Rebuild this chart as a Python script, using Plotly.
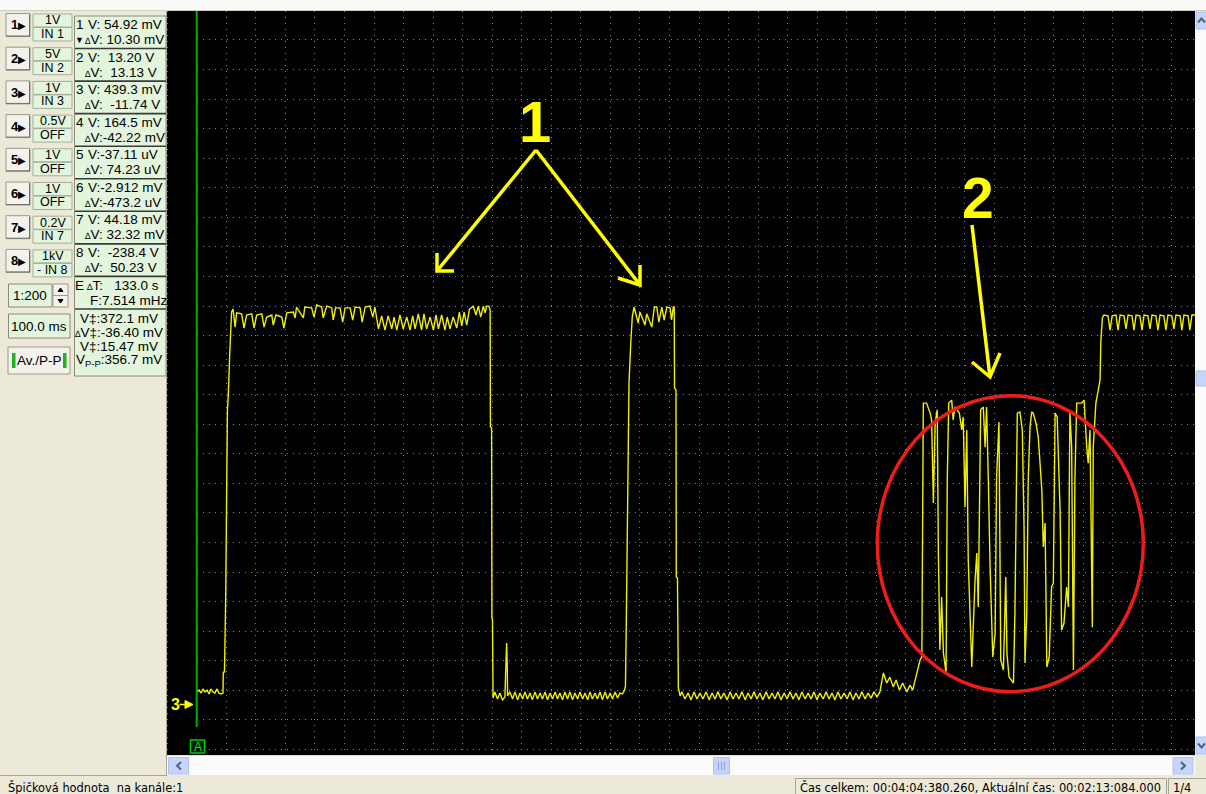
import plotly.graph_objects as go

# ---------------- channel 3 trace (time in ms, 100 ms/div ; volts, 1 V/div) ----------------
t_lead = [1, 8, 15, 21, 28, 35, 42, 48, 55, 62, 69, 75, 82, 89, 90, 94, 98, 104, 107, 110, 112, 118]
v_lead = [0.41, 0.47, 0.37, 0.51, 0.41, 0.47, 0.34, 0.51, 0.41, 0.37, 0.51, 0.37, 0.34, 0.37,
          1.08, 1.08, 3.52, 9.95, 10.45, 11.81, 11.91, 13.26]

t_high1 = [123, 130, 135, 152, 160, 169, 186, 194, 203, 220, 228, 237, 254, 259, 268, 288, 295, 305,
           327, 333, 338, 361, 366, 389, 397, 406, 423, 428, 440, 457, 462, 470, 485, 494, 502, 519,
           528, 536, 553, 560, 570, 586, 596, 603,
           615, 626, 637, 648, 660, 668, 677, 688, 699, 711, 722, 731, 739, 750, 761, 769, 778, 790,
           801, 810, 818, 829, 840, 848, 857, 868, 880, 889, 897, 905, 914, 923,
           936, 945, 953, 961, 970, 976, 981, 989]
v_high1 = [13.36, 12.75, 13.23, 13.20, 12.72, 13.16, 13.20, 12.72, 13.16, 13.20, 12.75, 13.09, 13.16,
           12.82, 13.16, 13.09, 12.72, 13.23, 13.26, 13.06, 13.43, 13.06, 13.43, 13.40, 13.09, 13.50,
           13.43, 13.06, 13.46, 13.40, 12.99, 13.40, 13.40, 12.92, 13.40, 13.40, 12.99, 13.43, 13.40,
           12.92, 13.43, 13.46, 13.09, 13.43,
           12.69, 13.13, 12.65, 13.13, 12.69, 13.09, 12.65, 13.16, 12.69, 13.09, 12.65, 13.13, 12.69,
           13.20, 12.65, 13.20, 12.69, 13.09, 12.65, 13.16, 12.69, 13.16, 12.65, 13.09, 12.69, 13.09,
           12.72, 13.26, 12.79, 13.26, 12.82, 13.36,
           13.46, 13.16, 13.46, 13.09, 13.46, 13.23, 13.46, 13.46]

t_fall1 = [993, 994, 998, 999, 1001, 1003]
v_fall1 = [13.33, 9.37, 9.34, 2.91, 2.84, 0.20]

t_low1 = [1009, 1018, 1026, 1035, 1043, 1046, 1047, 1049, 1051, 1052, 1060,
          1069, 1077, 1086, 1094, 1103, 1111, 1119, 1128, 1136, 1145, 1153, 1162, 1170, 1179, 1187,
          1196, 1204, 1213, 1221, 1229, 1238, 1246, 1255, 1263, 1272, 1280, 1289, 1297, 1306, 1314,
          1323, 1331, 1339, 1348, 1356, 1365, 1373, 1382, 1390, 1399, 1407, 1416, 1424, 1432, 1441,
          1448, 1451]
v_low1 = [0.41, 0.17, 0.37, 0.14, 0.24, 1.22, 2.06, 2.06, 1.22, 0.27,
          0.41, 0.17, 0.41, 0.14, 0.37, 0.17, 0.41, 0.17, 0.37, 0.14,
          0.41, 0.17, 0.37, 0.17, 0.41, 0.14, 0.37, 0.17, 0.41, 0.17,
          0.37, 0.14, 0.41, 0.17, 0.41, 0.14, 0.37, 0.17, 0.41, 0.17,
          0.37, 0.14, 0.41, 0.17, 0.37, 0.17, 0.41, 0.14, 0.41, 0.17,
          0.37, 0.17, 0.41, 0.20, 0.37, 0.34,
          0.47, 0.61]

t_rise2 = [1454, 1459, 1463, 1469, 1474, 1480]
v_rise2 = [2.91, 7.75, 10.86, 12.21, 13.09, 13.43]

t_high2 = [1494, 1500, 1517, 1523, 1540, 1549, 1557, 1564, 1574, 1582, 1591, 1602, 1607, 1613, 1616]
v_high2 = [12.89, 13.26, 12.82, 13.20, 12.75, 13.43, 13.43, 12.92, 13.43, 12.99, 13.43, 13.40,
           12.99, 13.43, 13.43]

t_fall2 = [1617, 1622, 1623, 1627, 1630, 1636]
v_fall2 = [10.69, 10.62, 4.30, 4.26, 0.54, 0.27]

t_low2 = [1642, 1652, 1663, 1673, 1683, 1693, 1703, 1713, 1724, 1734, 1744, 1754, 1764, 1774, 1784,
          1795, 1805, 1815, 1825, 1835, 1845, 1856, 1866, 1876, 1886, 1896, 1906, 1916, 1927, 1937,
          1947, 1957, 1967, 1977, 1988, 1998, 2008, 2018, 2028, 2038, 2048, 2059, 2069, 2079, 2089,
          2099, 2109, 2120, 2130, 2140, 2150, 2160, 2170, 2180, 2191, 2201, 2211, 2221, 2231, 2241,
          2251, 2262, 2272, 2282, 2292, 2302, 2312]
v_low2 = [0.41, 0.17, 0.37, 0.14, 0.41, 0.17, 0.37, 0.17, 0.41, 0.14,
          0.37, 0.17, 0.41, 0.17, 0.37, 0.14, 0.41, 0.17, 0.37, 0.17,
          0.41, 0.14, 0.37, 0.17, 0.41, 0.17, 0.37, 0.14, 0.41, 0.17,
          0.37, 0.17, 0.41, 0.14, 0.37, 0.17, 0.41, 0.17, 0.37, 0.14,
          0.41, 0.17, 0.37, 0.17, 0.41, 0.14, 0.37, 0.17, 0.41, 0.17,
          0.37, 0.14, 0.41, 0.17, 0.37, 0.17, 0.41, 0.14, 0.37, 0.17,
          0.41, 0.17, 0.37, 0.20, 0.41, 0.24, 0.41]

t_bump = [2324, 2335, 2346, 2357, 2367, 2378, 2389, 2403, 2414, 2423, 2431, 2442, 2448, 2454]
v_bump = [1.05, 0.71, 0.91, 0.58, 0.81, 0.47, 0.71, 0.41, 0.64, 0.47, 0.81, 1.25, 1.49, 1.59]

t_noise = [2459, 2470, 2482, 2487, 2493, 2499, 2506, 2510, 2515, 2521, 2527, 2536, 2540, 2545, 2555,
           2560, 2566, 2581, 2589, 2594, 2600, 2606, 2611, 2623, 2634, 2640, 2645, 2653, 2662, 2668,
           2673, 2679, 2685, 2694, 2702, 2707, 2715, 2721, 2730, 2738, 2742, 2749, 2758, 2764, 2769,
           2777, 2786, 2794, 2800, 2803, 2809, 2814, 2820, 2826, 2831, 2840, 2848, 2854, 2860, 2865,
           2871, 2877, 2885, 2893, 2899, 2905, 2912, 2922, 2927, 2935, 2944, 2950, 2955, 2961, 2967,
           2972, 2978, 2995, 3003, 3012, 3017, 3023, 3031, 3034, 3043, 3051, 3057]
v_noise = [10.18, 10.18, 9.84, 9.61, 6.80, 9.51, 9.95, 5.11, 1.83, 3.62, 1.73, 1.05, 7.58, 10.18,
           10.28, 9.61, 10.05, 9.84, 9.27, 9.71, 6.66, 9.27, 4.87, 1.25, 4.19, 5.11, 3.28, 9.95,
           10.05, 8.69, 10.05, 7.58, 4.63, 1.59, 2.40, 7.68, 9.54, 1.49, 1.15, 4.30, 1.73, 0.91,
           0.81, 0.71, 3.08, 9.84, 9.88, 9.27, 5.89, 1.39, 3.08, 7.58, 9.37, 9.88, 9.84, 9.51, 9.03,
           8.02, 7.24, 5.31, 6.12, 1.25, 1.59, 3.96, 4.09, 9.84, 9.71, 6.46, 2.50, 2.74, 3.96, 3.28,
           9.84, 8.69, 1.15, 7.58, 10.18, 10.18, 10.28, 8.69, 8.15, 9.27, 2.60, 8.69, 10.18, 10.62,
           10.96]

t_high3 = [3060, 3065, 3070, 3084, 3091, 3098, 3111, 3118, 3125, 3138, 3145, 3152, 3165, 3172, 3179,
           3192, 3199, 3206, 3219, 3226, 3233, 3246, 3253, 3260, 3273, 3280, 3287, 3300, 3307, 3314,
           3328, 3334, 3341, 3355, 3361, 3368, 3382]
v_high3 = [12.31, 13.06, 13.16, 13.13, 12.65, 13.13, 13.16, 12.65, 13.16, 13.13, 12.69, 13.16, 13.13,
           12.65, 13.16, 13.13, 12.65, 13.16, 13.13, 12.69, 13.16, 13.13, 12.65, 13.16, 13.13, 12.65,
           13.16, 13.13, 12.69, 13.16, 13.13, 12.65, 13.16, 13.13, 12.65, 13.16, 13.16]

seg_t = [t_lead, t_high1, t_fall1, t_low1, t_rise2, t_high2, t_fall2, t_low2, t_bump, t_noise, t_high3]
seg_v = [v_lead, v_high1, v_fall1, v_low1, v_rise2, v_high2, v_fall2, v_low2, v_bump, v_noise, v_high3]
time_ms = [t for s in seg_t for t in s]
ch3_volts = [v for s in seg_v for v in s]

# ---------------- panel texts ----------------
DT = '<span style="font-size:9px">∆</span>'
scale_top = ["1V", "5V", "1V", "0.5V", "1V", "1V", "0.2V", "1kV"]
scale_bot = ["IN 1", "IN 2", "IN 3", "OFF", "OFF", "OFF", "IN 7", "- IN 8"]
read_v = ["V: 54.92 mV", "V:  13.20 V", "V: 439.3 mV", "V: 164.5 mV", "V:-37.11 uV",
          "V:-2.912 mV", "V: 44.18 mV", "V:  -238.4 V"]
read_dv = ["V: 10.30 mV", "V:  13.13 V", "V:  -11.74 V", "V:-42.22 mV", "V: 74.23 uV",
           "V:-473.2 uV", "V: 32.32 mV", "V:  50.23 V"]
stats = ["V‡:372.1 mV", DT + "V‡:-36.40 mV", "V‡:15.47 mV", "V<sub>P-P</sub>:356.7 mV"]

W, H = 1206, 794
UI = "Liberation Sans, Arial, sans-serif"
STATUS = "DejaVu Sans, Tahoma, sans-serif"
GREEN_BOX = "#E3F5DD"
BTN = "#F3F2EC"
BTN_LINE = "#9C998B"
XP_BLUE = "#C5D5FA"
XP_BLUE_LINE = "#AAC0EE"
ARROW = "#4D6185"


def px(x):
    return x / W


def py(y):
    return 1 - y / H


shapes = []
ann = []


def rect(x0, y0, x1, y1, fill, line=None, lw=1, layer="below"):
    shapes.append(dict(type="rect", xref="paper", yref="paper", x0=px(x0), x1=px(x1),
                       y0=py(y1), y1=py(y0), fillcolor=fill, layer=layer,
                       line=dict(color=line if line else "rgba(0,0,0,0)", width=lw if line else 0)))


def seg(x0, y0, x1, y1, color, lw=1, layer="below", dash="solid"):
    shapes.append(dict(type="line", xref="paper", yref="paper", x0=px(x0), x1=px(x1),
                       y0=py(y0), y1=py(y1), layer=layer,
                       line=dict(color=color, width=lw, dash=dash)))


def path(points, color, lw, layer="above", closed=False, fill=None):
    d = "M " + " L ".join(f"{px(x):.5f},{py(y):.5f}" for x, y in points)
    if closed:
        d += " Z"
    shapes.append(dict(type="path", xref="paper", yref="paper", path=d, layer=layer,
                       line=dict(color=color, width=lw),
                       fillcolor=fill if fill else "rgba(0,0,0,0)"))


def text(x, y, s, size=13, color="#000000", xanchor="left", family=UI):
    ann.append(dict(xref="paper", yref="paper", x=px(x), y=py(y), text=s, showarrow=False,
                    xanchor=xanchor, yanchor="middle", borderpad=0,
                    font=dict(size=size, color=color, family=family)))


# window chrome
rect(0, 0, W, 10, "#FAFAF8")
seg(0, 10.5, W, 10.5, "#CFCDC0")
rect(167, 11, 1195, 755, "#000000")
seg(167.5, 11, 167.5, 755, "#7c7c7c", 1, dash="1px,5px")

# horizontal scrollbar
rect(167, 755, 1195, 775, "#FBFBF9")
seg(167, 755.5, 1195, 755.5, "#E2E0D6")
rect(168.5, 757.5, 188.5, 774, XP_BLUE, XP_BLUE_LINE)
path([(181, 762), (177, 765.8), (181, 769.5)], ARROW, 2, layer="below")
rect(1173, 757.5, 1193, 774, XP_BLUE, XP_BLUE_LINE)
path([(1181, 762), (1185, 765.8), (1181, 769.5)], ARROW, 2, layer="below")
rect(713.5, 757.5, 729.5, 774, XP_BLUE, XP_BLUE_LINE)
for gx in (718.5, 721.5, 724.5):
    seg(gx, 762, gx, 770, "#8CA3DA")

# vertical scrollbar
rect(1195, 11, 1206, 755, "#FBFBF9")
rect(1196, 12, 1208, 29, XP_BLUE, XP_BLUE_LINE)
path([(1198, 22.5), (1201.5, 18.5), (1205, 22.5)], ARROW, 2, layer="below")
rect(1196, 737, 1208, 754, XP_BLUE, XP_BLUE_LINE)
path([(1198, 743.5), (1201.5, 747.5), (1205, 743.5)], ARROW, 2, layer="below")
rect(1196, 371, 1208, 386, XP_BLUE, XP_BLUE_LINE)

# left panel / status bar separation
seg(0, 775.5, 167, 775.5, "#A9A696")
seg(166.5, 11, 166.5, 775, "#A9A696")

# status bar
rect(795.5, 778.5, 1166.5, 794.5, "rgba(0,0,0,0)", "#A6A392")
rect(1168.5, 778.5, 1210, 794.5, "rgba(0,0,0,0)", "#A6A392")
text(7, 787.5, "Špičková hodnota  na kanále:1", 11.4, family=STATUS)
text(799, 787.5, "Čas celkem: 00:04:04:380.260, Aktuální čas: 00:02:13:084.000", 11.4, family=STATUS)
text(1172, 787.5, "1/4", 11.4, family=STATUS)

# channel buttons and scale boxes
for i in range(8):
    base = 13.5 + 33.7 * i
    rect(6, base, 30, base + 23, BTN, BTN_LINE)
    seg(29.5, base + 1, 29.5, base + 23, "#716F64")
    seg(6, base + 22.5, 30, base + 22.5, "#716F64")
    text(18, base + 11.5, f'<b>{i + 1}</b><span style="font-size:10px">▶</span>', 13, xanchor="center")
    rect(33, base + 0.5, 72, base + 13.5, GREEN_BOX, "#A3AE9C")
    rect(33, base + 14, 72, base + 27.5, GREEN_BOX, "#A3AE9C")
    text(52.5, base + 6.8, scale_top[i], 12.5, xanchor="center")
    text(52.5, base + 20.3, scale_bot[i], 12.5, xanchor="center")

# readout column
rect(74.5, 16, 166, 376, GREEN_BOX, "#8D8A7A")
for i in range(1, 10):
    yy = 16 + 32.55 * i
    seg(75, yy, 166, yy, "#3a3a3a", 1.6)
for i in range(8):
    y1 = 24.5 + 32.55 * i
    text(79.5, y1, str(i + 1), 13.5, xanchor="center")
    text(87, y1, read_v[i], 13.5)
    text(83.5, y1 + 15, DT + read_dv[i], 13.5)
text(79.5, 39.5, "▼", 9, xanchor="center")
text(79.5, 285, "E", 13.5, xanchor="center")
text(86, 285, DT + "T:   133.0 s", 13.5)
text(89, 300, "F:7.514 mHz", 13.5)
for k, s in enumerate(stats):
    text(119, 318 + 14.2 * k, s, 13.5, xanchor="center")

# timebase controls
rect(8.5, 284, 52, 307, GREEN_BOX, "#8D8A7A")
text(30, 295.5, "1:200", 13.5, xanchor="center")
rect(53, 284, 68, 295.5, BTN, BTN_LINE)
rect(53, 295.5, 68, 307, BTN, BTN_LINE)
path([(58, 291.5), (60.5, 288), (63, 291.5)], "#000000", 1, layer="below", closed=True, fill="#000000")
path([(58, 299.5), (60.5, 303), (63, 299.5)], "#000000", 1, layer="below", closed=True, fill="#000000")
rect(8.5, 314, 70, 338, GREEN_BOX, "#8D8A7A")
text(39.5, 326, "100.0 ms", 13.5, xanchor="center")
rect(8, 347, 70, 374, BTN, BTN_LINE)
rect(12, 353, 15.5, 368, "#1DB51D")
rect(63, 353, 66.5, 368, "#1DB51D")
text(39, 360.5, "Av./P-P", 13.5, xanchor="center")

# cursor, channel marker, trigger marker
seg(196.7, 11, 196.7, 727, "#00B000", 2, layer="above")
text(175, 704.5, "<b>3</b>", 16, color="#FFFF00", xanchor="center")
seg(179.5, 704.5, 186.5, 704.5, "#FFFF00", 1.5, layer="above")
path([(185, 700.5), (193, 704.5), (185, 708.5)], "#FFFF00", 1, closed=True, fill="#FFFF00")
rect(190.5, 740, 204.5, 753, "#001800", "#00C800", 1.5, layer="above")
text(197.5, 746.8, "A", 12, color="#00E600", xanchor="center")

# hand-drawn markings
YEL = "#FFFF00"
text(535, 121, "<b>1</b>", 58, color=YEL, xanchor="center")
text(978, 198, "<b>2</b>", 57, color=YEL, xanchor="center")
path([(536, 150), (437, 271)], YEL, 3.5)
path([(437, 253), (437, 271), (454, 271)], YEL, 3.5)
path([(536, 150), (640, 285)], YEL, 3.5)
path([(640, 265), (640, 285), (618, 278)], YEL, 3.5)
path([(972, 225), (990, 377)], YEL, 3.5)
path([(972, 362), (990, 377), (1000, 353)], YEL, 3.5)
shapes.append(dict(type="circle", xref="paper", yref="paper", x0=px(877.3), x1=px(1143.3),
                   y0=py(691.7), y1=py(395.7), line=dict(color="#F01C1C", width=3.5), layer="above"))

fig = go.Figure()
fig.add_trace(go.Scatter(x=time_ms, y=ch3_volts, mode="lines", hoverinfo="skip",
                         line=dict(color="#F0F000", width=1.4), showlegend=False))

fig.update_layout(
    width=W, height=H, autosize=False,
    margin=dict(l=0, r=0, t=0, b=0, pad=0),
    paper_bgcolor="#ECE9D8", plot_bgcolor="#000000",
    shapes=shapes, annotations=ann, showlegend=False,
    xaxis=dict(domain=[196.7 / W, 1195 / W], range=[0, 3378.4], tick0=0, dtick=100,
               showgrid=True, gridcolor="#858585", gridwidth=1, griddash="1px,5px",
               zeroline=False, showticklabels=False, ticks="", showline=False, fixedrange=True),
    yaxis=dict(domain=[1 - 755 / H, 1 - 11 / H], range=[-1.7253, 23.4438], tick0=-0.537, dtick=1,
               showgrid=True, gridcolor="#858585", gridwidth=1, griddash="1px,5px",
               zeroline=False, showticklabels=False, ticks="", showline=False, fixedrange=True),
)

fig.write_html("out.html", config={"displayModeBar": False},
               post_script="document.body.style.margin='0';document.body.style.overflow='hidden';")
